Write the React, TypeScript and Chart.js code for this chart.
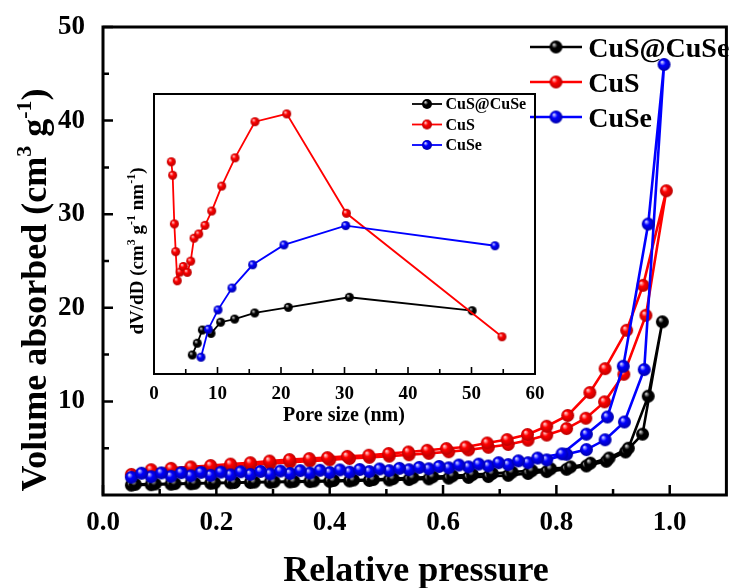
import React, { useEffect, useRef } from "react";
import { Chart, registerables } from "chart.js";

Chart.register(...registerables);

const SERIF = "'Liberation Serif', 'Times New Roman', Times, serif";

// N2 sorption isotherms: relative pressure P/P0 and adsorbed volume (cm3 g-1)
// CuS@CuSe
const cusCuseAdsP = [0.05, 0.085, 0.12, 0.155, 0.19, 0.225, 0.26, 0.295, 0.33, 0.365, 0.4, 0.435, 0.47, 0.505, 0.54, 0.575, 0.61, 0.645, 0.68, 0.715, 0.75, 0.783, 0.818, 0.853, 0.888, 0.922, 0.952, 0.987];
const cusCuseAdsV = [1.05, 1.1, 1.15, 1.2, 1.25, 1.3, 1.33, 1.36, 1.4, 1.43, 1.46, 1.5, 1.55, 1.6, 1.65, 1.72, 1.8, 1.88, 1.97, 2.1, 2.3, 2.5, 2.75, 3.1, 3.6, 4.6, 6.5, 18.5];
const cusCuseDesP = [0.962, 0.927, 0.893, 0.86, 0.825, 0.79, 0.757, 0.722, 0.687, 0.652, 0.617, 0.582, 0.547, 0.512, 0.477, 0.442, 0.407, 0.372, 0.337, 0.302, 0.267, 0.232, 0.197, 0.162, 0.127, 0.092, 0.057];
const cusCuseDesV = [10.56, 5.0, 3.95, 3.4, 3.0, 2.8, 2.6, 2.45, 2.3, 2.18, 2.05, 1.95, 1.85, 1.75, 1.65, 1.6, 1.55, 1.5, 1.46, 1.42, 1.38, 1.34, 1.3, 1.26, 1.22, 1.18, 1.14];
// CuS
const cusAdsP = [0.05, 0.085, 0.12, 0.155, 0.19, 0.225, 0.26, 0.295, 0.33, 0.365, 0.4, 0.435, 0.47, 0.505, 0.54, 0.575, 0.61, 0.645, 0.68, 0.715, 0.75, 0.783, 0.818, 0.852, 0.885, 0.919, 0.958, 0.994];
const cusAdsV = [2.2, 2.4, 2.6, 2.75, 2.9, 3.05, 3.2, 3.35, 3.5, 3.62, 3.75, 3.9, 4.02, 4.15, 4.3, 4.45, 4.62, 4.82, 5.1, 5.4, 5.85, 6.4, 7.1, 8.2, 9.95, 12.9, 19.2, 32.5];
const cusDesP = [0.953, 0.924, 0.886, 0.859, 0.82, 0.783, 0.749, 0.713, 0.678, 0.64, 0.606, 0.572, 0.539, 0.504, 0.469, 0.431, 0.396, 0.364, 0.329, 0.294, 0.26, 0.225, 0.19, 0.155, 0.12, 0.085];
const cusDesV = [22.4, 17.6, 13.5, 10.95, 8.5, 7.35, 6.46, 5.92, 5.56, 5.13, 4.96, 4.78, 4.6, 4.43, 4.25, 4.13, 3.99, 3.89, 3.78, 3.63, 3.45, 3.3, 3.15, 3.0, 2.85, 2.7];
// CuSe
const cuseAdsP = [0.05, 0.085, 0.12, 0.155, 0.19, 0.225, 0.26, 0.295, 0.33, 0.365, 0.4, 0.435, 0.47, 0.505, 0.54, 0.575, 0.61, 0.645, 0.68, 0.715, 0.75, 0.783, 0.818, 0.853, 0.886, 0.92, 0.955, 0.99];
const cuseAdsV = [1.9, 1.95, 2.0, 2.05, 2.1, 2.15, 2.2, 2.25, 2.3, 2.35, 2.4, 2.45, 2.5, 2.6, 2.7, 2.8, 2.9, 3.0, 3.1, 3.25, 3.45, 3.75, 4.35, 4.85, 5.9, 7.8, 13.4, 46.0];
const cuseDesP = [0.962, 0.918, 0.89, 0.853, 0.81, 0.767, 0.733, 0.698, 0.663, 0.628, 0.593, 0.558, 0.523, 0.488, 0.453, 0.418, 0.383, 0.348, 0.313, 0.278, 0.243, 0.208, 0.173, 0.138, 0.103, 0.068];
const cuseDesV = [28.95, 13.76, 8.34, 6.5, 4.4, 3.95, 3.65, 3.45, 3.3, 3.2, 3.05, 2.95, 2.85, 2.78, 2.72, 2.68, 2.64, 2.6, 2.56, 2.52, 2.48, 2.45, 2.42, 2.39, 2.36, 2.33];

// Pore size distributions: pore diameter (nm) and dV/dD (arbitrary units)
const psdCusCuseD = [6.03, 6.82, 7.61, 8.98, 10.5, 12.7, 15.86, 21.15, 30.76, 50.1];
const psdCusCuseV = [6.8, 11.0, 15.7, 14.5, 18.5, 19.6, 21.8, 23.8, 27.4, 22.6];
const psdCusD = [2.72, 2.94, 3.2, 3.42, 3.67, 4.1, 4.61, 5.24, 5.78, 6.3, 7.04, 8.03, 9.09, 10.66, 12.76, 15.9, 20.9, 30.3, 54.8];
const psdCusV = [75.8, 71.0, 53.6, 43.7, 33.3, 36.4, 38.4, 36.3, 40.3, 48.5, 50.0, 53.1, 58.2, 67.1, 77.2, 90.1, 92.9, 57.4, 13.3];
const psdCuseD = [7.4, 8.55, 10.08, 12.28, 15.54, 20.47, 30.19, 53.7];
const psdCuseV = [6.0, 16.0, 22.9, 30.7, 39.0, 46.1, 53.0, 45.8];

const seriesNames = ["CuS@CuSe", "CuS", "CuSe"];
const seriesColors = ["#000000", "#ff0000", "#0000ff"];
const seriesLights = ["#d8d8d8", "#ffd6d6", "#dcdcff"];
const seriesDarks = ["#000000", "#b80000", "#0000a8"];

// Axis ticks
const pressureTicks = [0, 0.2, 0.4, 0.6, 0.8, 1.0];
const pressureMinor = [0.1, 0.3, 0.5, 0.7, 0.9];
const volumeTicks = [10, 20, 30, 40, 50];
const volumeMinor = [5, 15, 25, 35, 45];
const poreTicks = [0, 10, 20, 30, 40, 50, 60];
const poreMinor = [5, 15, 25, 35, 45, 55];

type Piece = [string, boolean?];

function sphere(i: number, r: number): HTMLCanvasElement {
  const c = document.createElement("canvas");
  const s = Math.ceil(r * 2 + 2);
  c.width = s;
  c.height = s;
  const g = c.getContext("2d") as CanvasRenderingContext2D;
  const cx = s / 2;
  const cy = s / 2;
  const grad = g.createRadialGradient(cx - r * 0.35, cy - r * 0.4, r * 0.05, cx, cy, r);
  grad.addColorStop(0, seriesLights[i]);
  grad.addColorStop(0.4, seriesColors[i]);
  grad.addColorStop(1, seriesDarks[i]);
  g.fillStyle = grad;
  g.beginPath();
  g.arc(cx, cy, r, 0, Math.PI * 2);
  g.fill();
  return c;
}

function zip(xs: number[], ys: number[]) {
  return xs.map((x, k) => ({ x, y: ys[k] }));
}

function drawRich(ctx: CanvasRenderingContext2D, pieces: Piece[], size: number, cx: number, cy: number, angle: number) {
  ctx.save();
  ctx.translate(cx, cy);
  ctx.rotate(angle);
  const supSize = Math.round(size * 0.62);
  const widths: number[] = [];
  let total = 0;
  for (const [t, sup] of pieces) {
    ctx.font = `bold ${sup ? supSize : size}px ${SERIF}`;
    const w = ctx.measureText(t).width;
    widths.push(w);
    total += w;
  }
  let x = -total / 2;
  ctx.fillStyle = "#000";
  ctx.textAlign = "left";
  ctx.textBaseline = "alphabetic";
  pieces.forEach(([t, sup], k) => {
    ctx.font = `bold ${sup ? supSize : size}px ${SERIF}`;
    ctx.fillText(t, x, sup ? -size * 0.42 : 0);
    x += widths[k];
  });
  ctx.restore();
}

function drawLegend(
  ctx: CanvasRenderingContext2D,
  x0: number, x1: number, y0: number, dy: number,
  size: number, r: number, lw: number
) {
  ctx.save();
  seriesNames.forEach((name, i) => {
    const y = y0 + i * dy;
    ctx.strokeStyle = seriesColors[i];
    ctx.lineWidth = lw;
    ctx.beginPath();
    ctx.moveTo(x0, y);
    ctx.lineTo(x1, y);
    ctx.stroke();
    const im = sphere(i, r);
    ctx.drawImage(im, (x0 + x1) / 2 - im.width / 2, y - im.height / 2);
    ctx.fillStyle = "#000";
    ctx.font = `bold ${size}px ${SERIF}`;
    ctx.textAlign = "left";
    ctx.textBaseline = "alphabetic";
    ctx.fillText(name, x1 + size * 0.22, y + size * 0.34);
  });
  ctx.restore();
}

type FrameOpts = {
  frame: number; tick: number; major: number; minor: number;
  xMajor: number[]; xMinor: number[]; yMajor: number[]; yMinor: number[];
  extra: (ctx: CanvasRenderingContext2D) => void;
};

function framePlugin(o: FrameOpts) {
  return {
    id: "frameTicks",
    afterDraw(chart: any) {
      const { ctx, chartArea: a, scales } = chart;
      ctx.save();
      ctx.strokeStyle = "#000";
      ctx.lineWidth = o.tick;
      ctx.beginPath();
      const xs = scales.x;
      const ys = scales.y;
      o.xMajor.forEach((v) => { const p = xs.getPixelForValue(v); ctx.moveTo(p, a.bottom); ctx.lineTo(p, a.bottom - o.major); });
      o.xMinor.forEach((v) => { const p = xs.getPixelForValue(v); ctx.moveTo(p, a.bottom); ctx.lineTo(p, a.bottom - o.minor); });
      o.yMajor.forEach((v) => { const p = ys.getPixelForValue(v); ctx.moveTo(a.left, p); ctx.lineTo(a.left + o.major, p); });
      o.yMinor.forEach((v) => { const p = ys.getPixelForValue(v); ctx.moveTo(a.left, p); ctx.lineTo(a.left + o.minor, p); });
      ctx.stroke();
      ctx.lineWidth = o.frame;
      ctx.strokeRect(a.left, a.top, a.right - a.left, a.bottom - a.top);
      ctx.restore();
      o.extra(ctx);
    },
  };
}

function tickFont(size: number) {
  return { family: SERIF, size, weight: "bold" as const };
}

export default function App() {
  const mainRef = useRef<HTMLCanvasElement | null>(null);
  const insetRef = useRef<HTMLCanvasElement | null>(null);

  useEffect(() => {
    document.body.style.margin = "0";
    const bigDots = [0, 1, 2].map((i) => sphere(i, 6.5));
    const smallDots = [0, 1, 2].map((i) => sphere(i, 4.5));

    const isotherms = [
      zip(cusCuseAdsP.concat(cusCuseDesP), cusCuseAdsV.concat(cusCuseDesV)),
      zip(cusAdsP.concat(cusDesP), cusAdsV.concat(cusDesV)),
      zip(cuseAdsP.concat(cuseDesP), cuseAdsV.concat(cuseDesV)),
    ];
    const psd = [zip(psdCusCuseD, psdCusCuseV), zip(psdCusD, psdCusV), zip(psdCuseD, psdCuseV)];

    // CuSe is listed first so it is painted on top
    const order = [2, 1, 0];

    const main = new Chart(mainRef.current as HTMLCanvasElement, {
      type: "scatter",
      data: {
        datasets: order.map((i) => ({
          label: seriesNames[i],
          data: isotherms[i],
          showLine: true,
          borderColor: seriesColors[i],
          borderWidth: 2.6,
          pointStyle: bigDots[i] as any,
          pointRadius: 6,
          tension: 0,
        })),
      },
      options: {
        responsive: false,
        animation: false,
        events: [],
        layout: { padding: { left: 0, right: 3, top: 27, bottom: 0 } },
        plugins: { legend: { display: false }, tooltip: { enabled: false } },
        scales: {
          x: {
            type: "linear",
            min: 0,
            max: 1.1,
            grid: { display: false },
            border: { display: false },
            afterFit: (s: any) => { s.height = 93; },
            afterBuildTicks: (s: any) => { s.ticks = pressureTicks.map((value) => ({ value })); },
            ticks: { color: "#000", font: tickFont(27), padding: 4, maxRotation: 0, callback: (v: any) => Number(v).toFixed(1) },
          },
          y: {
            type: "linear",
            min: 0,
            max: 50,
            grid: { display: false },
            border: { display: false },
            afterFit: (s: any) => { s.width = 103; },
            afterBuildTicks: (s: any) => { s.ticks = volumeTicks.map((value) => ({ value })); },
            ticks: { color: "#000", font: tickFont(27), padding: 10, callback: (v: any) => String(v) },
          },
        },
      },
      plugins: [
        framePlugin({
          frame: 3, tick: 2.5, major: 10, minor: 6,
          xMajor: pressureTicks, xMinor: pressureMinor, yMajor: volumeTicks, yMinor: volumeMinor,
          extra: (ctx) => {
            drawRich(ctx, [["Relative pressure"]], 36, 416, 581, 0);
            drawRich(ctx, [["Volume absorbed (cm"], ["3", true], [" g"], ["-1", true], [")"]], 36, 46, 290, -Math.PI / 2);
            drawLegend(ctx, 530, 582, 47, 35, 28, 6.5, 2.6);
          },
        }) as any,
      ],
    });

    const inset = new Chart(insetRef.current as HTMLCanvasElement, {
      type: "scatter",
      data: {
        datasets: order.map((i) => ({
          label: seriesNames[i],
          data: psd[i],
          showLine: true,
          borderColor: seriesColors[i],
          borderWidth: 1.8,
          pointStyle: smallDots[i] as any,
          pointRadius: 4,
          tension: 0,
        })),
      },
      options: {
        responsive: false,
        animation: false,
        events: [],
        layout: { padding: { left: 100, right: 200, top: 94, bottom: 0 } },
        plugins: { legend: { display: false }, tooltip: { enabled: false } },
        scales: {
          x: {
            type: "linear",
            min: 0,
            max: 60,
            grid: { display: false },
            border: { display: false },
            afterFit: (s: any) => { s.height = 214; },
            afterBuildTicks: (s: any) => { s.ticks = poreTicks.map((value) => ({ value })); },
            ticks: { color: "#000", font: tickFont(19), padding: 1, maxRotation: 0 },
          },
          y: {
            type: "linear",
            min: 0,
            max: 100,
            grid: { display: false },
            border: { display: false },
            afterFit: (s: any) => { s.width = 54; },
            ticks: { display: false },
          },
        },
      },
      plugins: [
        framePlugin({
          frame: 2, tick: 1.6, major: 7, minor: 5,
          xMajor: poreTicks, xMinor: poreMinor, yMajor: [], yMinor: [],
          extra: (ctx) => {
            drawRich(ctx, [["Pore size (nm)"]], 20, 344, 421, 0);
            drawRich(ctx, [["dV/dD (cm"], ["3", true], [" g"], ["-1", true], [" nm"], ["-1", true], [")"]], 19, 143, 251, -Math.PI / 2);
            drawLegend(ctx, 412, 442, 104, 20.5, 16, 5, 1.8);
          },
        }) as any,
      ],
    });

    return () => {
      main.destroy();
      inset.destroy();
    };
  }, []);

  return (
    <div style={{ position: "relative", width: 735, height: 588, background: "#fff" }}>
      <canvas ref={mainRef} width={735} height={588} style={{ position: "absolute", left: 0, top: 0 }} />
      <canvas ref={insetRef} width={735} height={588} style={{ position: "absolute", left: 0, top: 0 }} />
    </div>
  );
}
